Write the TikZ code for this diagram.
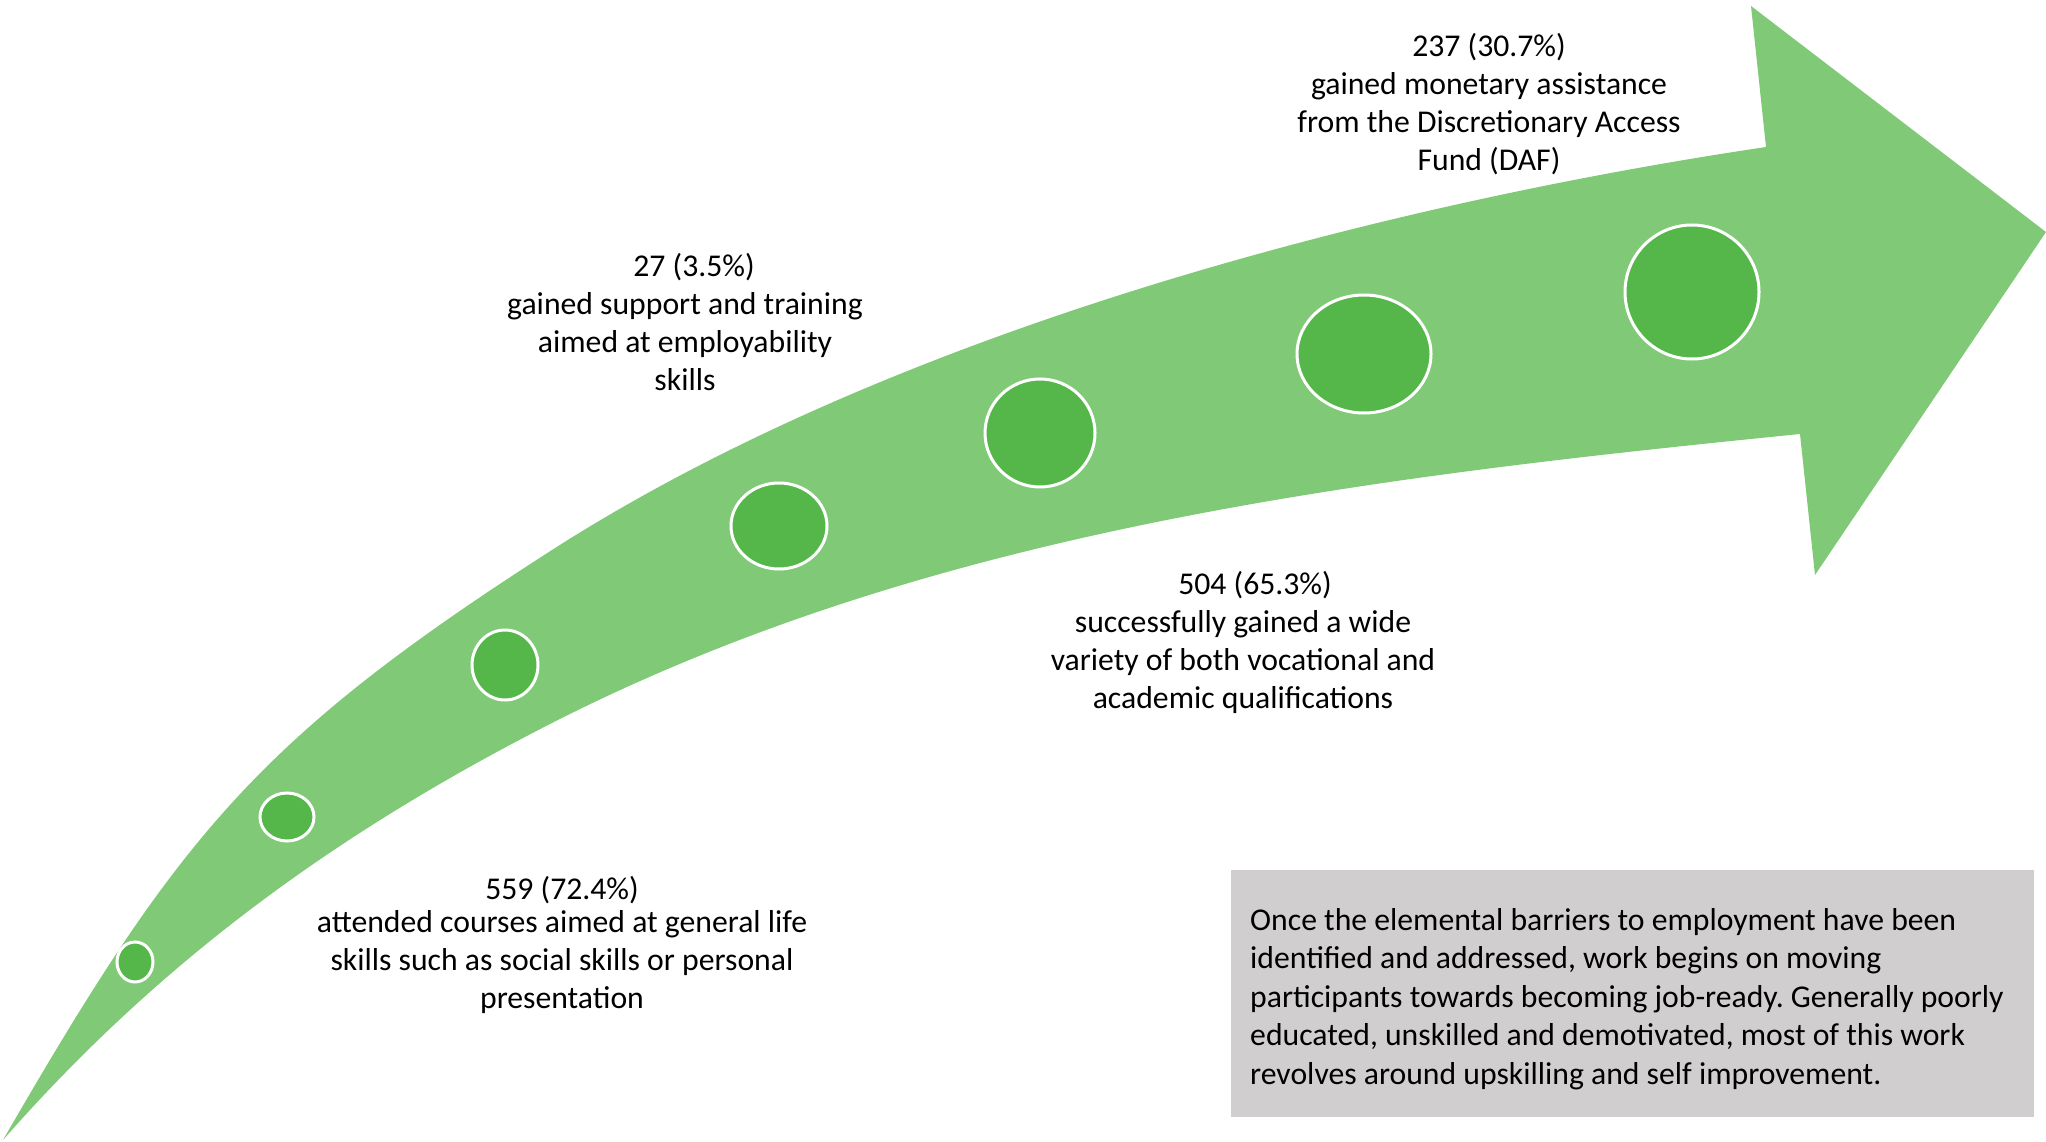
\documentclass[tikz,border=0pt]{standalone}
\usepackage{fontspec}
\setmainfont{Carlito}
\usetikzlibrary{shapes.geometric}
\definecolor{arrowgreen}{HTML}{80CA77}
\definecolor{dotgreen}{HTML}{55B74A}
\definecolor{boxgray}{HTML}{D0CECE}
\tikzset{
  bubble/.style={ellipse, fill=dotgreen, draw=white, line width=3pt, inner sep=0pt},
  lbl/.style={align=center, font=\fontsize{31.7}{38}\selectfont, inner sep=0pt, text=black},
}
\frenchspacing
\begin{document}
\begin{tikzpicture}[x=1pt,y=-1pt]
\useasboundingbox (0,0) rectangle (2046,1142);
% arrow body and head
\fill[arrowgreen] (3,1140)
  .. controls (178,837) and (257,739) .. (552,550)
  .. controls (889,334) and (1370,206) .. (1766,147)
  -- (1751,6) -- (2046,232) -- (1815,575) -- (1800,434)
  .. controls (1372,477) and (935,528) .. (552,723)
  .. controls (338,832) and (161,960) .. (3,1140)
  -- cycle;
% bubbles
\node[bubble, minimum width=36pt, minimum height=40pt] (b1) at (135,962) {};
\node[bubble, minimum width=54pt, minimum height=48pt] (b2) at (287,817) {};
\node[bubble, minimum width=66pt, minimum height=70pt] (b3) at (505,665) {};
\node[bubble, minimum width=96pt, minimum height=86pt] (b4) at (779,526) {};
\node[bubble, minimum width=110pt, minimum height=108pt] (b5) at (1040,433) {};
\node[bubble, minimum width=134pt, minimum height=118pt] (b6) at (1364,354) {};
\node[bubble, minimum width=134pt, minimum height=134pt] (b7) at (1692,292) {};
% labels
\node[lbl] (l237) at (1489,104) {237 (30.7\%)\\gained monetary assistance\\from the Discretionary Access\\Fund (DAF)};
\node[lbl] (l27) at (685,322) {\hspace*{18pt}27 (3.5\%)\\gained support and training\\aimed at employability\\skills};
\node[lbl] (l504) at (1243,642) {\hspace*{24pt}504 (65.3\%)\\successfully gained a wide\\variety of both vocational and\\academic qualifications};
\node[lbl] (l559) at (562,945) {559 (72.4\%)\\[-5pt]attended courses aimed at general life\\skills such as social skills or personal\\presentation};
% text box
\node[fill=boxgray, minimum width=803pt, minimum height=247pt, inner sep=0pt] (box) at (1632.5,993.5) {};
\node[anchor=west, align=left, font=\fontsize{31.7}{38.5}\selectfont, inner sep=0pt] (boxtext) at (1250,999) {Once the elemental barriers to employment have been\\identified and addressed, work begins on moving\\participants towards becoming job-ready. Generally poorly\\educated, unskilled and demotivated, most of this work\\revolves around upskilling and self improvement.};
\end{tikzpicture}
\end{document}
